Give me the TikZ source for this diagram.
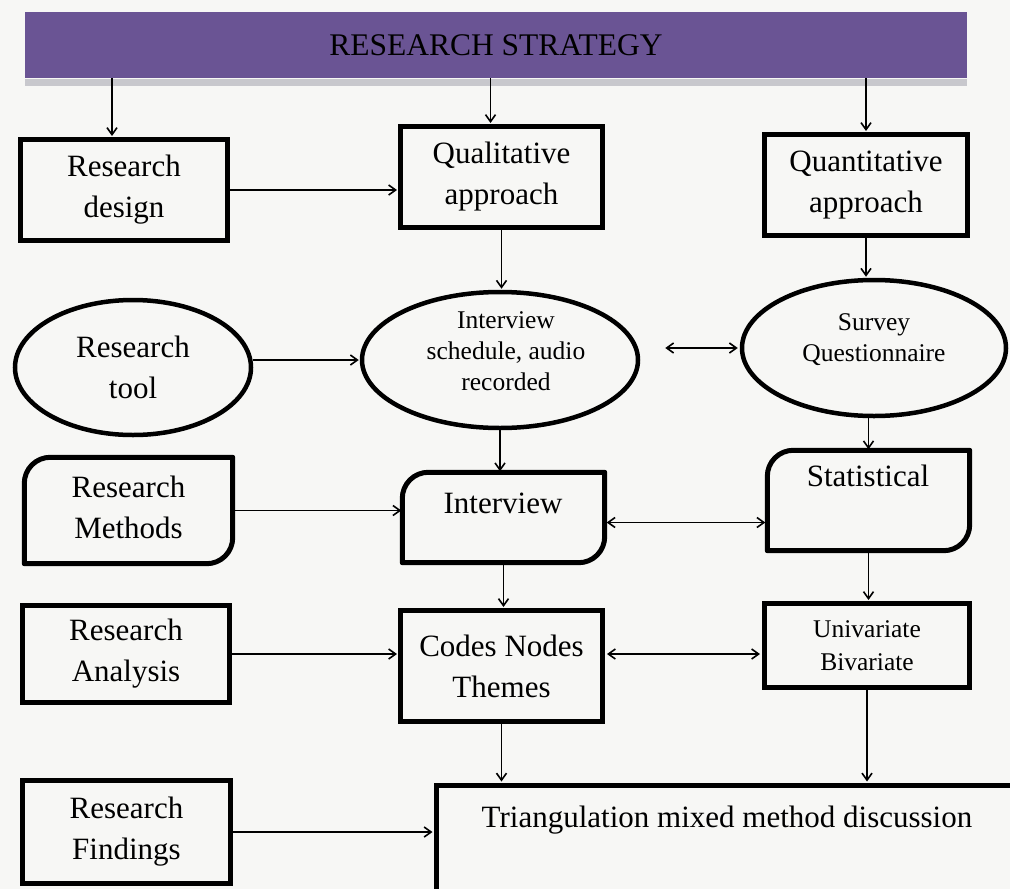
\documentclass[tikz,border=0pt]{standalone}
\usepackage{fontspec}
\setmainfont{Liberation Serif}
\usetikzlibrary{shapes.geometric,arrows.meta,calc}
\definecolor{bannerc}{RGB}{106,84,148}
\definecolor{bgc}{RGB}{247,247,245}
\definecolor{shadowc}{RGB}{200,200,205}
\newcommand\cutbox[1]{\draw[line width=5pt,line join=round]
  (#1.south west) -- ($(#1.north west)+(0,26)$) to[out=90,in=180] ($(#1.north west)+(26,0)$)
  -- (#1.north east) -- ($(#1.south east)+(0,-26)$) to[out=-90,in=0] ($(#1.south east)+(-26,0)$) -- cycle;}
\begin{document}
\begin{tikzpicture}[x=1pt,y=-1pt,
  sq/.style={draw,line width=5pt,inner sep=0pt,align=center,font=\fontsize{31}{41}\selectfont},
  ghost/.style={inner sep=0pt},
  el/.style={ellipse,draw,line width=4.5pt,inner sep=0pt,align=center,font=\fontsize{31}{41}\selectfont},
  txt/.style={inner sep=0pt,align=center,font=\fontsize{31}{41}\selectfont},
  stxt/.style={inner sep=0pt,align=center,font=\fontsize{25.5}{31}\selectfont},
  tip/.tip={Straight Barb[length=7pt,width=10pt,line width=1.6pt]},
  arr/.style={-tip,line width=1.8pt,shorten >=1pt},
  darr/.style={tip-tip,line width=1.8pt,shorten >=2pt,shorten <=2pt}]
\useasboundingbox (0,0) rectangle (1010,889);
\fill[bgc] (0,0) rectangle (1010,889);
% banner
\fill[shadowc] (25,79) rectangle (967,86);
\node[fill=bannerc,minimum width=942pt,minimum height=66pt,inner sep=0pt,
  font=\fontsize{31.5}{36}\selectfont] (banner) at (496,45) {RESEARCH STRATEGY};
% boxes
\node[sq,minimum width=207pt,minimum height=101pt] (design) at (124,190) {Research\\design};
\node[sq,minimum width=202pt,minimum height=101pt] (qual) at (501.5,177) {Qualitative\\approach};
\node[sq,minimum width=203pt,minimum height=101pt] (quant) at (866,185) {Quantitative\\approach};
\node[el,minimum width=236pt,minimum height=135pt] (tool) at (133,367.5) {Research\\tool};
\node[el,minimum width=276pt,minimum height=136pt] (sched) at (500,360) {};
\node[stxt] (tsched) at (506,351) {Interview\\schedule, audio\\recorded};
\node[el,minimum width=264pt,minimum height=136pt] (survey) at (874,348) {};
\node[stxt] (tsurvey) at (874,340) {Survey\\Questionnaire};
\node[ghost,minimum width=208pt,minimum height=106pt] (methods) at (128.5,510.5) {};
\cutbox{methods}
\node[txt] (tmethods) at (128.5,507) {Research\\Methods};
\node[ghost,minimum width=202pt,minimum height=90pt] (interview) at (503.5,517.5) {};
\cutbox{interview}
\node[txt] (tinterview) at (503,503) {Interview};
\node[ghost,minimum width=202pt,minimum height=100pt] (stat) at (868.5,500.5) {};
\cutbox{stat}
\node[txt] (tstat) at (868,476) {Statistical};
\node[sq,minimum width=207pt,minimum height=97pt] (analysis) at (126,654) {Research\\Analysis};
\node[sq,minimum width=202pt,minimum height=111pt] (codes) at (501.5,666) {Codes Nodes\\Themes};
\node[sq,minimum width=205pt,minimum height=84pt,font=\fontsize{25.5}{33}\selectfont] (univ) at (867,645.5) {Univariate\\Bivariate};
\node[sq,minimum width=208pt,minimum height=103pt] (findings) at (126.5,832) {Research\\Findings};
\node[sq,minimum width=578pt,minimum height=110pt] (tri) at (725,840) {};
\node[txt] (ttri) at (727,820) {Triangulation mixed method discussion};
% connectors from banner
\coordinate (d1) at ([xshift=-12pt]design.north);
\coordinate (q1) at ([xshift=-11pt]qual.north);
\draw[arr] (banner.south -| d1) -- (d1);
\draw[arr] (banner.south -| q1) -- (q1);
\draw[arr] (banner.south -| quant.north) -- (quant.north);
% left column to middle
\draw[arr] (design.east) -- (design.east -| qual.west);
\draw[arr] (tool.east |- sched.west) -- (sched.west);
\draw[arr] (methods.east) -- (methods.east -| interview.west);
\draw[arr] (analysis.east) -- (analysis.east -| codes.west);
\draw[arr] (findings.east) -- (findings.east -| tri.west);
% vertical flows
\draw[arr] (qual.south) -- (qual.south |- sched.north);
\draw[arr] (quant.south) -- (quant.south |- survey.north);
\draw[arr] (sched.south) -- (sched.south |- interview.north);
\draw[arr] (stat.north |- survey.south) -- (stat.north);
\draw[arr] (interview.south) -- (interview.south |- codes.north);
\draw[arr] (stat.south) -- (stat.south |- univ.north);
\draw[arr] (codes.south) -- (codes.south |- tri.north);
\draw[arr] (univ.south) -- (univ.south |- tri.north);
% double arrows
\draw[darr,shorten <=25pt] (survey.west -| sched.east) -- (survey.west);
\coordinate (ci) at ([yshift=-5pt]interview.east);
\draw[darr] (ci) -- (ci -| stat.west);
\coordinate (cu) at ([yshift=-8.5pt]univ.west);
\draw[darr] (cu -| codes.east) -- (cu);
\end{tikzpicture}
\end{document}
